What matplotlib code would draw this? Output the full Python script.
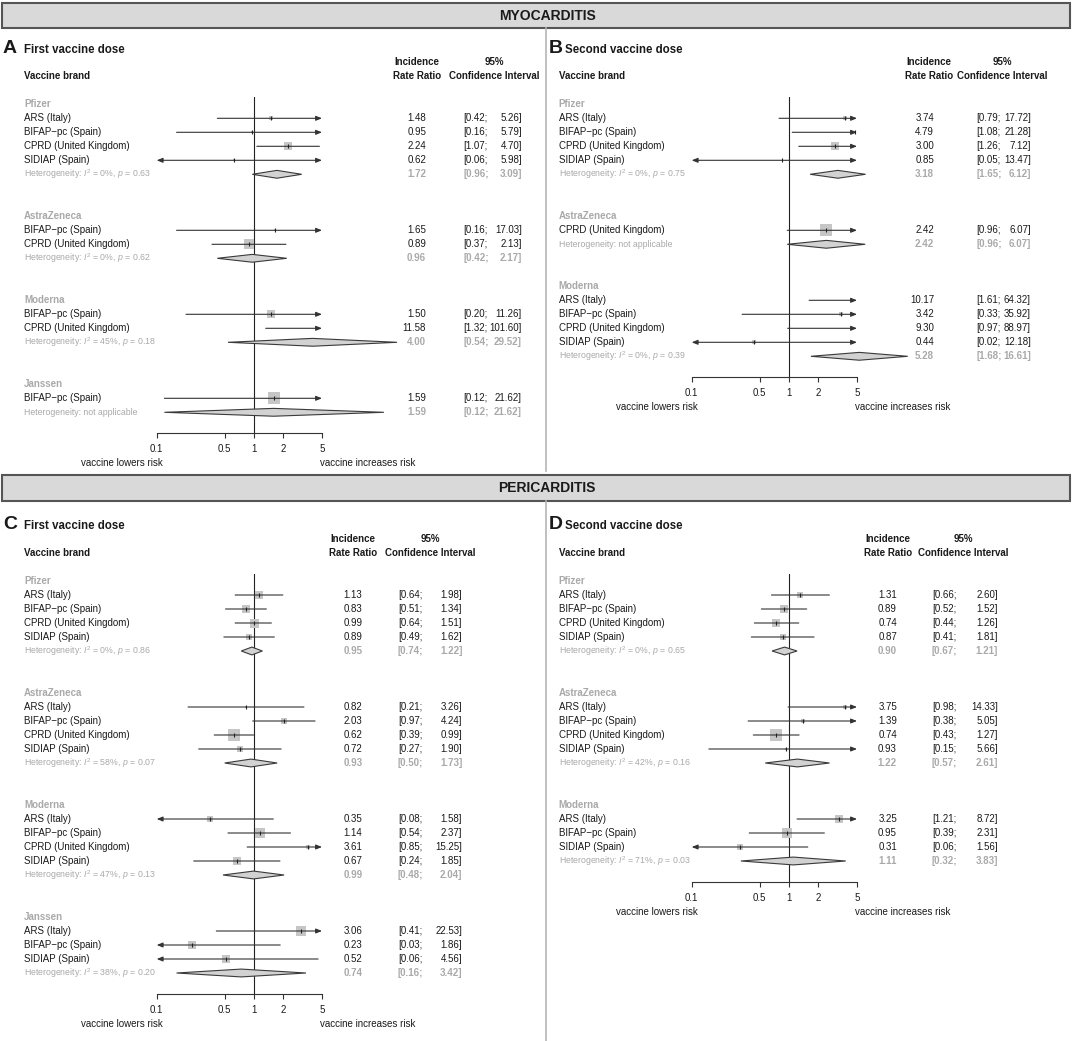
import matplotlib
matplotlib.use("Agg")
import matplotlib.pyplot as plt
import matplotlib.transforms as mtransforms
from matplotlib.patches import Polygon, Rectangle
from matplotlib.ticker import NullLocator

plt.rcParams["font.family"] = ["Liberation Sans", "DejaVu Sans"]
plt.rcParams["mathtext.fontset"] = "custom"
plt.rcParams["mathtext.rm"] = "Liberation Sans"
plt.rcParams["mathtext.it"] = "Liberation Sans:italic"
plt.rcParams["mathtext.bf"] = "Liberation Sans:bold"

W, H = 1072, 1041

# ---------------- data ----------------
brands4 = ["Pfizer", "AstraZeneca", "Moderna", "Janssen"]
brands3 = ["Pfizer", "AstraZeneca", "Moderna"]

# A: myocarditis, first dose
a_studies = [["ARS (Italy)", "BIFAP\u2212pc (Spain)", "CPRD (United Kingdom)", "SIDIAP (Spain)"],
             ["BIFAP\u2212pc (Spain)", "CPRD (United Kingdom)"],
             ["BIFAP\u2212pc (Spain)", "CPRD (United Kingdom)"],
             ["BIFAP\u2212pc (Spain)"]]
a_irr = [[1.48, 0.95, 2.24, 0.62], [1.65, 0.89], [1.50, 11.58], [1.59]]
a_lo = [[0.42, 0.16, 1.07, 0.06], [0.16, 0.37], [0.20, 1.32], [0.12]]
a_hi = [[5.26, 5.79, 4.70, 5.98], [17.03, 2.13], [11.26, 101.60], [21.62]]
a_wt = [[0.29, 0.12, 0.62, 0.10], [0.12, 0.83], [0.67, 0.5], [1.0]]
a_pool = [1.72, 0.96, 4.00, 1.59]
a_pool_lo = [0.96, 0.42, 0.54, 0.12]
a_pool_hi = [3.09, 2.17, 29.52, 21.62]
a_i2 = [0, 0, 45, None]
a_p = [0.63, 0.62, 0.18, None]

# B: myocarditis, second dose
b_studies = [["ARS (Italy)", "BIFAP\u2212pc (Spain)", "CPRD (United Kingdom)", "SIDIAP (Spain)"],
             ["CPRD (United Kingdom)"],
             ["ARS (Italy)", "BIFAP\u2212pc (Spain)", "CPRD (United Kingdom)", "SIDIAP (Spain)"]]
b_irr = [[3.74, 4.79, 3.00, 0.85], [2.42], [10.17, 3.42, 9.30, 0.44]]
b_lo = [[0.79, 1.08, 1.26, 0.05], [0.96], [1.61, 0.33, 0.97, 0.02]]
b_hi = [[17.72, 21.28, 7.12, 13.47], [6.07], [64.32, 35.92, 88.97, 12.18]]
b_wt = [[0.28, 0.15, 0.67, 0.08], [0.96], [0.5, 0.38, 0.5, 0.28]]
b_pool = [3.18, 2.42, 5.28]
b_pool_lo = [1.65, 0.96, 1.68]
b_pool_hi = [6.12, 6.07, 16.61]
b_i2 = [0, None, 0]
b_p = [0.75, None, 0.39]

# C: pericarditis, first dose
c_studies = [["ARS (Italy)", "BIFAP\u2212pc (Spain)", "CPRD (United Kingdom)", "SIDIAP (Spain)"],
             ["ARS (Italy)", "BIFAP\u2212pc (Spain)", "CPRD (United Kingdom)", "SIDIAP (Spain)"],
             ["ARS (Italy)", "BIFAP\u2212pc (Spain)", "CPRD (United Kingdom)", "SIDIAP (Spain)"],
             ["ARS (Italy)", "BIFAP\u2212pc (Spain)", "SIDIAP (Spain)"]]
c_irr = [[1.13, 0.83, 0.99, 0.89], [0.82, 2.03, 0.62, 0.72], [0.35, 1.14, 3.61, 0.67], [3.06, 0.23, 0.52]]
c_lo = [[0.64, 0.51, 0.64, 0.49], [0.21, 0.97, 0.39, 0.27], [0.08, 0.54, 0.85, 0.24], [0.41, 0.03, 0.06]]
c_hi = [[1.98, 1.34, 1.51, 1.62], [3.26, 4.24, 0.99, 1.90], [1.58, 2.37, 15.25, 1.85], [22.53, 1.86, 4.56]]
c_wt = [[0.63, 0.63, 0.75, 0.5], [0.23, 0.58, 0.97, 0.42], [0.43, 0.83, 0.38, 0.63], [0.78, 0.72, 0.69]]
c_pool = [0.95, 0.93, 0.99, 0.74]
c_pool_lo = [0.74, 0.50, 0.48, 0.16]
c_pool_hi = [1.22, 1.73, 2.04, 3.42]
c_i2 = [0, 58, 47, 38]
c_p = [0.86, 0.07, 0.13, 0.20]

# D: pericarditis, second dose
d_studies = [["ARS (Italy)", "BIFAP\u2212pc (Spain)", "CPRD (United Kingdom)", "SIDIAP (Spain)"],
             ["ARS (Italy)", "BIFAP\u2212pc (Spain)", "CPRD (United Kingdom)", "SIDIAP (Spain)"],
             ["ARS (Italy)", "BIFAP\u2212pc (Spain)", "SIDIAP (Spain)"]]
d_irr = [[1.31, 0.89, 0.74, 0.87], [3.75, 1.39, 0.74, 0.93], [3.25, 0.95, 0.31]]
d_lo = [[0.66, 0.52, 0.44, 0.41], [0.98, 0.38, 0.43, 0.15], [1.21, 0.39, 0.06]]
d_hi = [[2.60, 1.52, 1.26, 1.81], [14.33, 5.05, 1.27, 5.66], [8.72, 2.31, 1.56]]
d_wt = [[0.57, 0.63, 0.65, 0.48], [0.39, 0.39, 0.96, 0.2], [0.73, 0.83, 0.42]]
d_pool = [0.90, 1.22, 1.11]
d_pool_lo = [0.67, 0.57, 0.32]
d_pool_hi = [1.21, 2.61, 3.83]
d_i2 = [0, 42, 71]
d_p = [0.65, 0.16, 0.03]

ticks = [0.1, 0.5, 1, 2, 5]
tick_labels = ["0.1", "0.5", "1", "2", "5"]

# ---------------- layout / style ----------------
ROW = 14.0
BOX_MAX = 12.0
GRAY = "#a9a9a9"
BLACK = "#1a1a1a"
FS = 7.0

fig = plt.figure(figsize=(W / 100, H / 100), dpi=100)
fig.patch.set_facecolor("white")

bg = fig.add_axes([0, 0, 1, 1])
bg.set_xlim(0, W)
bg.set_ylim(H, 0)
bg.axis("off")
for y0, hgt, name in [(3, 25, "MYOCARDITIS"), (475, 26, "PERICARDITIS")]:
    bg.add_patch(Rectangle((2, y0), W - 4, hgt, facecolor="#d9d9d9", edgecolor="#555555", lw=1.5))
    bg.text(547, y0 + hgt / 2, name, ha="center", va="center", fontsize=10, fontweight="bold", color=BLACK)
bg.plot([546, 546], [28, 471], color="#b5b5b5", lw=1.2)
bg.plot([546, 546], [501, H], color="#b5b5b5", lw=1.2)


def het_text(i2, p):
    if i2 is None:
        return "Heterogeneity: not applicable"
    return rf"Heterogeneity: $I^2$ = {i2}%, $p$ = {p:.2f}"


def draw_panel(cfg, letter, title, groups, studies, irr, lo, hi, wt, pool, pool_lo, pool_hi, i2, pv):
    head_rows, study_rows, pool_rows = [], [], []
    r = 0
    for names in studies:
        head_rows.append(r)
        study_rows.append(list(range(r + 1, r + 1 + len(names))))
        pool_rows.append(r + 1 + len(names))
        r += len(names) + 4
    axis_row = pool_rows[-1] + 1.5

    top_px = cfg["row0"] - 0.5 * ROW
    bot_px = cfg["row0"] + axis_row * ROW
    ax = fig.add_axes([cfg["x01"] / W, 1 - bot_px / H,
                       (cfg["x5"] - cfg["x01"]) / W, (bot_px - top_px) / H])
    ax.set_xscale("log")
    ax.set_xlim(0.1, 5)
    ax.set_ylim(axis_row, -0.5)
    ax.patch.set_visible(False)
    for s in ["top", "left", "right"]:
        ax.spines[s].set_visible(False)
    ax.spines["bottom"].set_linewidth(0.8)
    ax.spines["bottom"].set_color("#333333")
    ax.set_yticks([])
    ax.set_xticks(ticks)
    ax.set_xticklabels(tick_labels)
    ax.xaxis.set_minor_locator(NullLocator())
    ax.tick_params(axis="x", length=3.6, width=0.8, pad=4.2, labelsize=FS, colors="#333333",
                   labelcolor=BLACK)
    ax.axvline(1, color="#222222", lw=0.8, zorder=1)

    tr = mtransforms.blended_transform_factory(fig.transFigure, ax.transData)

    def txt(xpx, row, s, **kw):
        kw.setdefault("fontsize", FS)
        kw.setdefault("color", BLACK)
        kw.setdefault("va", "center")
        ax.text(xpx / W, row, s, transform=tr, **kw)

    # headings
    txt(cfg["letter_x"], -3.68, letter, fontsize=14, fontweight="bold", va="baseline")
    txt(cfg["title_x"], -3.68, title, fontsize=8.3, fontweight="bold", va="baseline")
    txt(cfg["lab"], -2, "Vaccine brand", fontweight="bold")
    txt(cfg["inc"], -3, "Incidence", fontweight="bold", ha="center")
    txt(cfg["inc"], -2, "Rate Ratio", fontweight="bold", ha="center")
    txt(cfg["ci"], -3, "95%", fontweight="bold", ha="center")
    txt(cfg["ci"], -2, "Confidence Interval", fontweight="bold", ha="center")

    for g in range(len(groups)):
        txt(cfg["lab"], head_rows[g], groups[g], color=GRAY, fontweight="bold")
        for k, name in enumerate(studies[g]):
            y = study_rows[g][k]
            est, l, h = irr[g][k], lo[g][k], hi[g][k]
            txt(cfg["lab"], y, name)
            txt(cfg["irr"], y, f"{est:.2f}", ha="right")
            txt(cfg["cil"], y, f"[{l:.2f};", ha="left")
            txt(cfg["cih"], y, f"{h:.2f}]", ha="right")

            side = BOX_MAX * wt[g][k] * 0.72
            ax.scatter([est], [y], marker="s", s=side ** 2, color="#c6c6c6", linewidths=0, zorder=2)
            l_c, h_c = max(l, 0.1), min(h, 5)
            if l < 0.1 and h > 5:
                style = "<|-|>,head_length=0.5,head_width=0.2"
            elif h > 5:
                style = "-|>,head_length=0.5,head_width=0.2"
            elif l < 0.1:
                style = "<|-,head_length=0.5,head_width=0.2"
            else:
                style = "-"
            if l_c < h_c:
                ax.annotate("", xy=(h_c, y), xytext=(l_c, y), xycoords="data",
                            arrowprops=dict(arrowstyle=style, color="#333333", lw=0.8,
                                            shrinkA=0, shrinkB=0, mutation_scale=7),
                            zorder=3)
            ax.plot([est], [y], marker="|", ms=3.2, mew=0.8, color="#222222", ls="none", zorder=4)

        y = pool_rows[g]
        txt(cfg["lab"], y, het_text(i2[g], pv[g]), color=GRAY, fontsize=6.3)
        txt(cfg["irr"], y, f"{pool[g]:.2f}", ha="right", color=GRAY, fontweight="bold")
        txt(cfg["cil"], y, f"[{pool_lo[g]:.2f};", ha="left", color=GRAY, fontweight="bold")
        txt(cfg["cih"], y, f"{pool_hi[g]:.2f}]", ha="right", color=GRAY, fontweight="bold")
        hh = 0.28
        ax.add_patch(Polygon([(pool_lo[g], y), (pool[g], y - hh), (pool_hi[g], y), (pool[g], y + hh)],
                             closed=True, facecolor="#d2d2d2", edgecolor="#3a3a3a", lw=0.8,
                             clip_on=False, zorder=3))

    ax.annotate("vaccine lowers risk", xy=(0.1, axis_row), xytext=(6, -29.7),
                textcoords="offset pixels", ha="right", va="center", fontsize=FS,
                color=BLACK, annotation_clip=False)
    ax.annotate("vaccine increases risk", xy=(5, axis_row), xytext=(-2, -29.7),
                textcoords="offset pixels", ha="left", va="center", fontsize=FS,
                color=BLACK, annotation_clip=False)


cfg_a = dict(x01=156.7, x5=322.0, row0=104.3, lab=24, irr=426, cil=463, cih=522,
             inc=417, ci=494.5, letter_x=3, title_x=24)
cfg_b = dict(x01=691.7, x5=857.0, row0=104.3, lab=558.7, irr=934, cil=976.5, cih=1031,
             inc=928.7, ci=1002.5, letter_x=549, title_x=565)
cfg_c = dict(x01=156.7, x5=322.0, row0=581.0, lab=24, irr=362.4, cil=397.9, cih=462.3,
             inc=353, ci=430, letter_x=3, title_x=24)
cfg_d = dict(x01=691.7, x5=857.0, row0=581.0, lab=558.7, irr=897, cil=931.9, cih=998,
             inc=887.8, ci=963, letter_x=549, title_x=565)

draw_panel(cfg_a, "A", "First vaccine dose", brands4, a_studies, a_irr, a_lo, a_hi, a_wt,
           a_pool, a_pool_lo, a_pool_hi, a_i2, a_p)
draw_panel(cfg_b, "B", "Second vaccine dose", brands3, b_studies, b_irr, b_lo, b_hi, b_wt,
           b_pool, b_pool_lo, b_pool_hi, b_i2, b_p)
draw_panel(cfg_c, "C", "First vaccine dose", brands4, c_studies, c_irr, c_lo, c_hi, c_wt,
           c_pool, c_pool_lo, c_pool_hi, c_i2, c_p)
draw_panel(cfg_d, "D", "Second vaccine dose", brands3, d_studies, d_irr, d_lo, d_hi, d_wt,
           d_pool, d_pool_lo, d_pool_hi, d_i2, d_p)

fig.savefig("out.png", dpi=100, facecolor="white")
